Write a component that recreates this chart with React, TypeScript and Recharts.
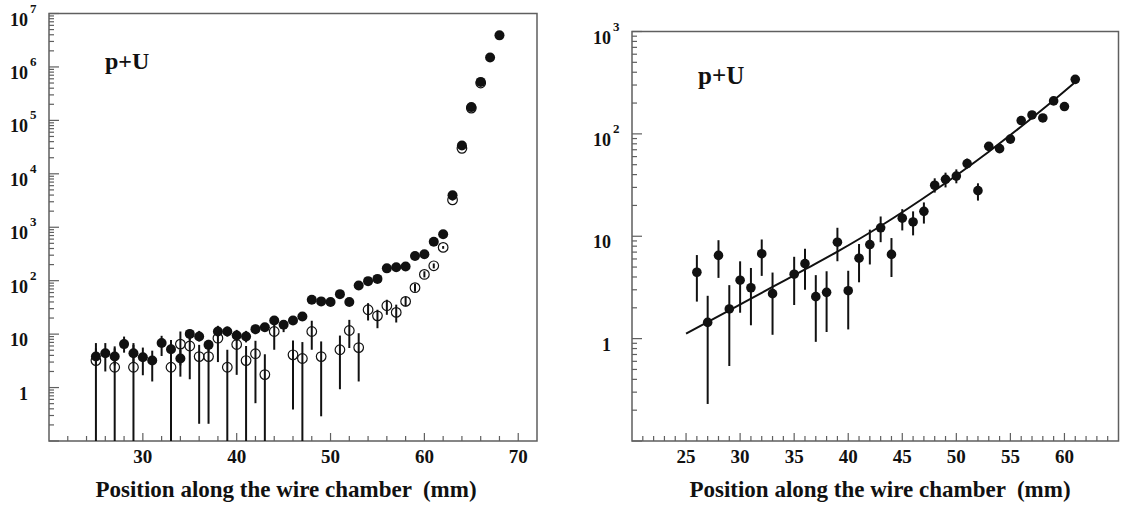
import React from 'react';
import { ComposedChart, Scatter, Line, XAxis, YAxis, ErrorBar, ReferenceArea } from 'recharts';

const FONT = '"Liberation Serif", "Times New Roman", serif';
const INK = '#111111';
const FRAME = '#5f5f5f';
const TITLE = 'Position along the wire chamber \u00a0(mm)';

// Left panel: filled points (total)
const LEFT_FILLED_X = [25, 26, 27, 28, 29, 30, 31, 32, 33, 34, 35, 36, 37, 38, 39, 40, 41, 42, 43, 44, 45, 46,
  47, 48, 49, 50, 51, 52, 53, 54, 55, 56, 57, 58, 59, 60, 61, 62, 63, 64, 65, 66, 67, 68];
const LEFT_FILLED_Y = [3.8, 4.4, 3.8, 6.5, 4.4, 3.7, 3.2, 6.8, 5.2, 3.5, 10.1, 9.0, 6.3, 11.2, 11.2, 9.4, 9.0,
  12.4, 13.4, 18, 15, 18, 21.4, 44, 41, 40, 56, 40, 81, 98, 108, 170, 178, 184, 290, 312, 535, 740, 3950,
  34000, 177000, 525000, 1500000, 3900000];
const LEFT_FILLED_LO = [2.6, 2.0, 2.6, 4.5, 3.0, 1.7, 1.3, 3.9, 3.6, 1.6, 7.8, 7.3, 4.8, 9.0, 9.0, 7.5, 7.0,
  10, 11, 15, 10.9, 15, 18, 40, 37, 36, 51, 36, 76, 92, 102, 162, 170, 176, 280, 300, 520, 725, 3900,
  33800, 177000, 525000, 1500000, 3900000];
const LEFT_FILLED_HI = [5.4, 6.8, 5.4, 9.0, 6.3, 5.6, 4.9, 9.3, 7.5, 5.1, 12.2, 11.5, 7.8, 14.3, 13.9, 12, 11.5,
  15, 16, 21.5, 18, 21.5, 25, 48, 45, 44, 61, 44, 86, 104, 114, 178, 186, 192, 300, 324, 550, 755, 4000,
  34200, 177000, 525000, 1500000, 3900000];

// Left panel: open points
const LEFT_OPEN_X = [25, 27, 29, 33, 34, 35, 36, 37, 38, 39, 40, 41, 42, 43, 44, 46, 47, 48, 49, 51, 52, 53,
  54, 55, 56, 57, 58, 59, 60, 61, 62, 63, 64, 65, 66];
const LEFT_OPEN_Y = [3.2, 2.4, 2.4, 2.4, 6.5, 6.0, 3.8, 3.8, 8.4, 2.4, 6.4, 3.2, 4.3, 1.75, 11.2, 4.1, 3.5,
  11.2, 3.8, 5.1, 11.7, 5.6, 28.6, 22, 34, 25.5, 41, 74, 131, 190, 420, 3250, 30000, 170000, 500000];
const LEFT_OPEN_LO = [0.1, 0.1, 0.1, 0.1, 2.6, 1.43, 0.21, 0.21, 3.0, 0.1, 1.73, 0.1, 0.51, 0.1, 5.1, 0.39, 0.1,
  5.1, 0.29, 0.93, 5.5, 1.3, 18, 12.9, 23, 16.5, 33, 62, 115, 170, 395, 3150, 30000, 170000, 500000];
const LEFT_OPEN_HI = [6.8, 5.9, 6.8, 7.8, 11.2, 11, 6.3, 6.0, 11.5, 5.1, 9.5, 6.0, 7.5, 4.2, 16, 7.6, 7.1,
  17.8, 7.3, 9.4, 18.5, 10.4, 38, 28.6, 44, 35.6, 50, 88, 150, 210, 445, 3350, 30000, 170000, 500000];

// Right panel: points and fitted curve
const RIGHT_X = [26, 27, 28, 29, 30, 31, 32, 33, 35, 36, 37, 38, 39, 40, 41, 42, 43, 44, 45, 46, 47, 48, 49,
  50, 51, 52, 53, 54, 55, 56, 57, 58, 59, 60, 61];
const RIGHT_Y = [4.45, 1.44, 6.5, 1.95, 3.72, 3.14, 6.75, 2.75, 4.26, 5.4, 2.57, 2.83, 8.75, 2.94, 6.1, 8.3,
  12.1, 6.65, 15, 13.8, 17.5, 31.5, 36, 38.7, 51.3, 27.9, 75.5, 71.7, 88.9, 135, 153, 143, 210, 185, 341];
const RIGHT_LO = [2.3, 0.23, 3.92, 0.54, 1.79, 1.35, 4.1, 1.09, 2.13, 3.0, 0.93, 1.16, 5.7, 1.23, 3.55, 5.3,
  8.75, 4.0, 11.4, 10.2, 13.3, 26.7, 30, 32.9, 45.9, 22.3, 68, 68, 84, 129, 146, 136, 201, 177, 330];
const RIGHT_HI = [6.55, 2.62, 9.15, 3.33, 5.69, 4.9, 9.3, 4.42, 6.3, 7.55, 4.17, 4.55, 12.1, 4.6, 8.4, 11.6,
  15.6, 9.6, 18.4, 17.5, 21.4, 36.8, 41.8, 45, 57.4, 32.9, 83, 76, 94, 141, 160, 150, 219, 193, 352];
const FIT_X = [25, 29, 33, 36, 39, 43, 48, 53, 56.5, 59, 61.2];
const FIT_Y = [1.12, 1.89, 3.2, 4.74, 7.08, 12.6, 28, 67, 130, 213, 335];

// Axis ticks and labels
const LEFT_X_TICKS = [22, 24, 26, 28, 30, 32, 34, 36, 38, 40, 42, 44, 46, 48, 50, 52, 54, 56, 58, 60, 62, 64,
  66, 68, 70];
const LEFT_X_LABELS = [30, 40, 50, 60, 70];
const RIGHT_X_TICKS = [21, 22, 23, 24, 25, 26, 27, 28, 29, 30, 31, 32, 33, 34, 35, 36, 37, 38, 39, 40, 41, 42,
  43, 44, 45, 46, 47, 48, 49, 50, 51, 52, 53, 54, 55, 56, 57, 58, 59, 60, 61, 62, 63, 64];
const RIGHT_X_LABELS = [25, 30, 35, 40, 45, 50, 55, 60];
const LEFT_Y_LABEL_VALUES = [1, 10, 100, 1e3, 1e4, 1e5, 1e6, 1e7];
const LEFT_Y_LABELS = ['1', '10', '10^2', '10^3', '10^4', '10^5', '10^6', '10^7'];
const RIGHT_Y_LABEL_VALUES = [1, 10, 100, 1e3];
const RIGHT_Y_LABELS = ['1', '10', '10^2', '10^3'];

const toPoints = (xs: number[], ys: number[], lo: number[], hi: number[]) =>
  xs.map((x, i) => ({ x, y: ys[i], err: [ys[i] - lo[i], hi[i] - ys[i]] }));

const logTicks = (minExp: number, maxExp: number) => {
  const t: number[] = [];
  for (let e = minExp; e < maxExp; e++) {
    for (let k = 1; k < 10; k++) t.push(Number((k * Math.pow(10, e)).toPrecision(3)));
  }
  t.push(Math.pow(10, maxExp));
  return t;
};

const makeYTick = (values: number[], labels: string[]) => (props: any) => {
  const { x, y, payload } = props;
  const v = payload.value;
  const lg = Math.log10(v);
  const decade = Math.abs(lg - Math.round(lg)) < 1e-6;
  const idx = values.findIndex((d) => Math.abs(d - v) / d < 1e-6);
  const [base, exp] = idx >= 0 ? labels[idx].split('^') : [];
  return (
    <g>
      <line x1={x} x2={x + (decade ? 10 : 5)} y1={y} y2={y} stroke={FRAME} strokeWidth={1.2} />
      {base && (
        <text x={x - 21} y={y + 12} textAnchor="end" fontFamily={FONT} fontWeight="bold" fontSize={18} fill={INK}>
          {base}
        </text>
      )}
      {exp && (
        <text x={x - 19} y={y - 1} textAnchor="start" fontFamily={FONT} fontWeight="bold" fontSize={13} fill={INK}>
          {exp}
        </text>
      )}
    </g>
  );
};

const makeXTick = (labelled: number[]) => (props: any) => {
  const { x, y, payload } = props;
  const lab = labelled.includes(payload.value);
  return (
    <g>
      <line x1={x} x2={x} y1={y} y2={y - (lab ? 8 : 5)} stroke={FRAME} strokeWidth={1.2} />
      {lab && (
        <text x={x} y={y + 22} textAnchor="middle" fontFamily={FONT} fontWeight="bold" fontSize={19} fill={INK}>
          {payload.value}
        </text>
      )}
    </g>
  );
};

const filledDot = (r: number) => (p: any) => <circle cx={p.cx} cy={p.cy} r={r} fill={INK} />;
const openDot = (p: any) => <circle cx={p.cx} cy={p.cy} r={4.8} fill="none" stroke={INK} strokeWidth={1.2} />;

export default function App() {
  const leftFilled = toPoints(LEFT_FILLED_X, LEFT_FILLED_Y, LEFT_FILLED_LO, LEFT_FILLED_HI);
  const leftOpen = toPoints(LEFT_OPEN_X, LEFT_OPEN_Y, LEFT_OPEN_LO, LEFT_OPEN_HI);
  const right = toPoints(RIGHT_X, RIGHT_Y, RIGHT_LO, RIGHT_HI);
  const fit = FIT_X.map((x, i) => ({ x, y: FIT_Y[i] }));

  return (
    <div style={styles.page}>
      <div style={{ ...styles.panel, left: 0, width: 560 }}>
        <ComposedChart width={560} height={509} margin={{ top: 13.5, right: 23, bottom: 0, left: 0 }}>
          <XAxis
            dataKey="x"
            type="number"
            domain={[20, 72]}
            allowDataOverflow
            ticks={LEFT_X_TICKS}
            interval={0}
            height={68}
            tickSize={0}
            tickMargin={0}
            axisLine={false}
            tickLine={false}
            tick={makeXTick(LEFT_X_LABELS)}
          />
          <YAxis
            dataKey="y"
            type="number"
            scale="log"
            domain={[0.1, 1e7]}
            allowDataOverflow
            ticks={logTicks(-1, 7)}
            interval={0}
            width={49}
            tickSize={0}
            tickMargin={0}
            axisLine={false}
            tickLine={false}
            tick={makeYTick(LEFT_Y_LABEL_VALUES, LEFT_Y_LABELS)}
          />
          <ReferenceArea x1={20} x2={72} y1={0.1} y2={1e7} fill="none" stroke={FRAME} strokeWidth={1.5} ifOverflow="visible" />
          <Scatter data={leftOpen} dataKey="y" shape={openDot} isAnimationActive={false}>
            <ErrorBar dataKey="err" direction="y" width={0} stroke={INK} strokeWidth={2} isAnimationActive={false} />
          </Scatter>
          <Scatter data={leftFilled} dataKey="y" shape={filledDot(5)} isAnimationActive={false}>
            <ErrorBar dataKey="err" direction="y" width={0} stroke={INK} strokeWidth={2} isAnimationActive={false} />
          </Scatter>
        </ComposedChart>
      </div>

      <div style={{ ...styles.panel, left: 560, width: 562 }}>
        <ComposedChart width={562} height={509} margin={{ top: 31.5, right: 3.5, bottom: 0, left: 0 }}>
          <XAxis
            dataKey="x"
            type="number"
            domain={[20, 65]}
            allowDataOverflow
            ticks={RIGHT_X_TICKS}
            interval={0}
            height={68}
            tickSize={0}
            tickMargin={0}
            axisLine={false}
            tickLine={false}
            tick={makeXTick(RIGHT_X_LABELS)}
          />
          <YAxis
            dataKey="y"
            type="number"
            scale="log"
            domain={[0.1, 1000]}
            allowDataOverflow
            ticks={logTicks(-1, 3)}
            interval={0}
            width={72}
            tickSize={0}
            tickMargin={0}
            axisLine={false}
            tickLine={false}
            tick={makeYTick(RIGHT_Y_LABEL_VALUES, RIGHT_Y_LABELS)}
          />
          <ReferenceArea x1={20} x2={65} y1={0.1} y2={1000} fill="none" stroke={FRAME} strokeWidth={1.5} ifOverflow="visible" />
          <Line data={fit} dataKey="y" type="monotone" stroke={INK} strokeWidth={2} dot={false} isAnimationActive={false} />
          <Scatter data={right} dataKey="y" shape={filledDot(4.8)} isAnimationActive={false}>
            <ErrorBar dataKey="err" direction="y" width={0} stroke={INK} strokeWidth={2} isAnimationActive={false} />
          </Scatter>
        </ComposedChart>
      </div>

      <svg width={1122} height={509} style={styles.overlay}>
        <text x={105} y={69} fontFamily={FONT} fontWeight="bold" fontSize={24} fill={INK}>p+U</text>
        <text x={698} y={84} fontFamily={FONT} fontWeight="bold" fontSize={25} fill={INK}>p+U</text>
        <text x={286} y={497} textAnchor="middle" fontFamily={FONT} fontWeight="bold" fontSize={23} fill={INK}>
          {TITLE}
        </text>
        <text x={880} y={497} textAnchor="middle" fontFamily={FONT} fontWeight="bold" fontSize={23} fill={INK}>
          {TITLE}
        </text>
      </svg>
    </div>
  );
}

const styles: Record<string, React.CSSProperties> = {
  page: {
    position: 'absolute',
    left: 0,
    top: 0,
    width: 1122,
    height: 509,
    background: '#fff',
    overflow: 'hidden',
  },
  panel: {
    position: 'absolute',
    top: 0,
    height: 509,
  },
  overlay: {
    position: 'absolute',
    left: 0,
    top: 0,
    pointerEvents: 'none',
  },
};
